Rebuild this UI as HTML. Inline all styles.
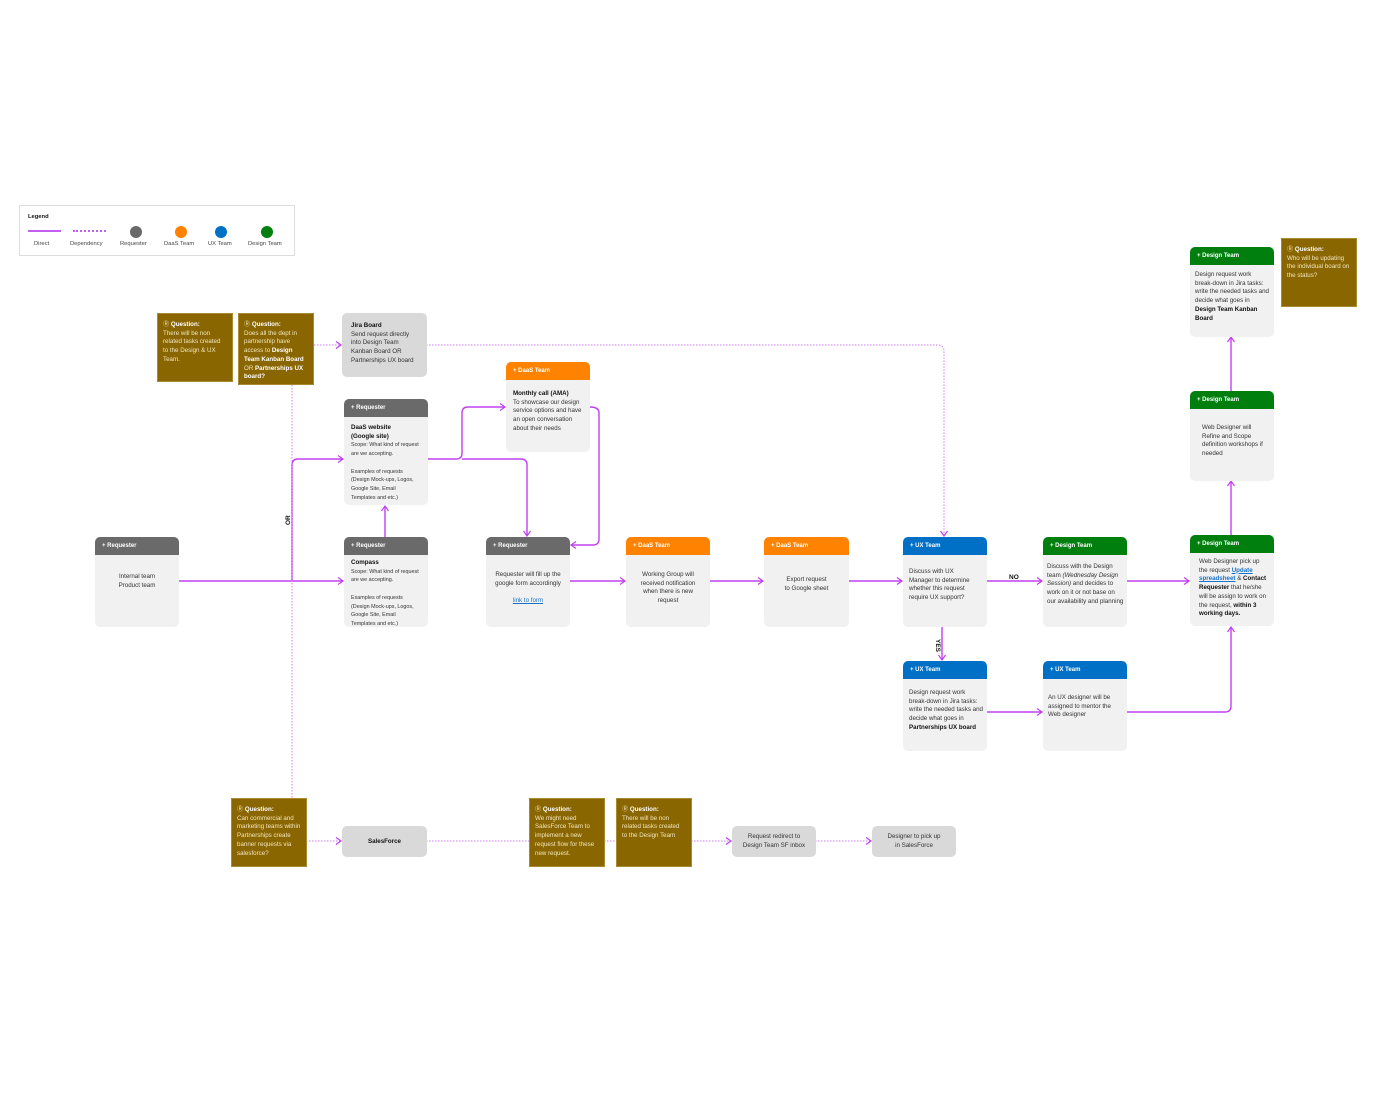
<!DOCTYPE html>
<html><head><meta charset="utf-8"><style>
*{box-sizing:border-box;margin:0;padding:0}
body{width:1392px;height:1093px;background:#fff;position:relative;font-family:"Liberation Sans",sans-serif;overflow:hidden;color:#333}
.c{position:absolute;background:#f1f1f1;border-radius:5px;overflow:hidden;font-size:6.2px;line-height:8.7px}
.h{height:18px;color:#fff;font-weight:bold;font-size:6px;line-height:18px;padding-left:7px}
.b{padding:7px 7px}
.g{background:#6a6a6a}.o{background:#ff8200}.u{background:#0070c6}.gr{background:#007f0e}
.q{position:absolute;background:#8a6600;color:#f3e6c0;font-size:6.2px;line-height:8.7px;padding:7px 5px;border:1px solid #a88a30}
.q b{color:#fff}
.gy{position:absolute;background:#d9d9d9;border-radius:5px;font-size:6.2px;line-height:8.7px}
.ctr{text-align:center}
b{color:#111}
a{color:#1a73c8;text-decoration:underline}
svg{position:absolute;left:0;top:0}
</style></head><body>
<div style="position:absolute;left:19px;top:205px;width:276px;height:51px;border:1px solid #ddd;font-size:5.8px;color:#444">
<div style="position:absolute;left:8px;top:8px;font-weight:bold;color:#111">Legend</div>
<div style="position:absolute;left:8px;top:24px;width:33px;height:2px;background:#c25ef0"></div>
<div style="position:absolute;left:53px;top:24px;width:33px;border-top:2px dotted #c25ef0"></div>
<div style="position:absolute;left:110px;top:20px;width:12px;height:12px;border-radius:50%;background:#6a6a6a"></div>
<div style="position:absolute;left:155px;top:20px;width:12px;height:12px;border-radius:50%;background:#ff8200"></div>
<div style="position:absolute;left:195px;top:20px;width:12px;height:12px;border-radius:50%;background:#0070c6"></div>
<div style="position:absolute;left:241px;top:20px;width:12px;height:12px;border-radius:50%;background:#007f0e"></div>
<div style="position:absolute;left:14px;top:35px">Direct</div>
<div style="position:absolute;left:50px;top:35px">Dependency</div>
<div style="position:absolute;left:100px;top:35px">Requester</div>
<div style="position:absolute;left:144px;top:35px">DaaS Team</div>
<div style="position:absolute;left:188px;top:35px">UX Team</div>
<div style="position:absolute;left:228px;top:35px">Design Team</div>
</div>

<svg width="1392" height="1093">
<defs><marker id="a" markerWidth="8" markerHeight="8" refX="6" refY="4" orient="auto" markerUnits="userSpaceOnUse"><path d="M1,0.5 L6,4 L1,7.5" fill="none" stroke="#c040f0" stroke-width="1.2"/></marker></defs>
<g fill="none" stroke="#c040f0" stroke-width="1.4">
<path d="M178,581 H343" marker-end="url(#a)"/>
<path d="M292,581 V465 Q292,459 298,459 H343" marker-end="url(#a)"/>
<path d="M385,537 V506" marker-end="url(#a)"/>
<path d="M427,459 H456 Q462,459 462,453 V413 Q462,407 468,407 H505" marker-end="url(#a)"/>
<path d="M462,459 H521 Q527,459 527,465 V536" marker-end="url(#a)"/>
<path d="M590,407 Q599,407 599,413 V539 Q599,545 593,545 H571" marker-end="url(#a)"/>
<path d="M569,581 H625" marker-end="url(#a)"/>
<path d="M709,581 H763" marker-end="url(#a)"/>
<path d="M848,581 H902" marker-end="url(#a)"/>
<path d="M986,581 H1042" marker-end="url(#a)"/>
<path d="M1126,581 H1189" marker-end="url(#a)"/>
<path d="M942,626 V660" marker-end="url(#a)"/>
<path d="M986,712 H1042" marker-end="url(#a)"/>
<path d="M1126,712 H1225 Q1231,712 1231,706 V627" marker-end="url(#a)"/>
<path d="M1231,535 V481" marker-end="url(#a)"/>
<path d="M1231,391 V337" marker-end="url(#a)"/>
</g>
<g fill="none" stroke="#d07af5" stroke-width="1" stroke-dasharray="1.5,1.5">
<path d="M292,385 V798"/>
<path d="M314,345 H341" marker-end="url(#a)"/>
<path d="M426,345 H938 Q944,345 944,351 V536" marker-end="url(#a)"/>
<path d="M306,841 H341" marker-end="url(#a)"/>
<path d="M426,841 H529"/>
<path d="M604,841 H616"/>
<path d="M691,841 H731" marker-end="url(#a)"/>
<path d="M815,841 H871" marker-end="url(#a)"/>
</g>
<text x="1009" y="579" font-size="6.5" font-weight="bold" fill="#111" font-family="Liberation Sans">NO</text>
<text transform="translate(936,639) rotate(90)" font-size="6.5" font-weight="bold" fill="#111" font-family="Liberation Sans">YES</text>
<text transform="translate(290,525) rotate(-90)" font-size="6.5" font-weight="bold" fill="#111" font-family="Liberation Sans">OR</text>
</svg>

<div class="q" style="left:157px;top:313px;width:76px;height:69px">&#9415; <b>Question:</b><br>There will be non related tasks created to the Design &amp; UX Team.</div>
<div class="q" style="left:238px;top:313px;width:76px;height:72px">&#9415; <b>Question:</b><br>Does all the dept in partnership have access to <b>Design Team Kanban Board</b> OR <b>Partnerships UX board?</b></div>
<div class="q" style="left:1281px;top:238px;width:76px;height:69px">&#9415; <b>Question:</b><br>Who will be updating the individual board on the status?</div>
<div class="q" style="left:231px;top:798px;width:76px;height:69px">&#9415; <b>Question:</b><br>Can commercial and marketing teams within Partnerships create banner requests via salesforce?</div>
<div class="q" style="left:529px;top:798px;width:76px;height:69px">&#9415; <b>Question:</b><br>We might need SalesForce Team to implement a new request flow for these new request.</div>
<div class="q" style="left:616px;top:798px;width:76px;height:69px">&#9415; <b>Question:</b><br>There will be non related tasks created to the Design Team</div>

<div class="gy" style="left:342px;top:313px;width:85px;height:64px;padding:9px 9px"><b>Jira Board</b><br>Send request directly into Design Team Kanban Board OR Partnerships UX board</div>
<div class="gy ctr" style="left:342px;top:826px;width:85px;height:31px;line-height:31px;font-weight:bold;color:#111">SalesForce</div>
<div class="gy ctr" style="left:732px;top:826px;width:84px;height:31px;padding-top:7px">Request redirect to<br>Design Team SF inbox</div>
<div class="gy ctr" style="left:872px;top:826px;width:84px;height:31px;padding-top:7px">Designer to pick up<br>in SalesForce</div>

<div class="c" style="left:95px;top:537px;width:84px;height:90px"><div class="h g">+ Requester</div><div class="b ctr" style="padding-top:18px">Internal team<br>Product team</div></div>
<div class="c" style="left:344px;top:399px;width:84px;height:106px"><div class="h g">+ Requester</div><div class="b"><b>DaaS website<br>(Google site)</b><br><span style="font-size:5.4px;line-height:8px">Scope: What kind of request are we accepting.<br><br>Examples of requests (Design Mock-ups, Logos, Google Site, Email Templates and etc.)</span></div></div>
<div class="c" style="left:344px;top:537px;width:84px;height:90px"><div class="h g">+ Requester</div><div class="b" style="padding-top:4px"><b>Compass</b><br><span style="font-size:5.4px;line-height:8px">Scope: What kind of request are we accepting.<br><br>Examples of requests (Design Mock-ups, Logos, Google Site, Email Templates and etc.)</span></div></div>
<div class="c" style="left:506px;top:362px;width:84px;height:90px"><div class="h o">+ DaaS Team</div><div class="b" style="padding-top:10px;padding-right:4px"><b>Monthly call (AMA)</b><br>To showcase our design service options and have an open conversation about their needs</div></div>
<div class="c" style="left:486px;top:537px;width:84px;height:90px"><div class="h g">+ Requester</div><div class="b ctr" style="padding-top:16px">Requester will fill up the google form accordingly<br><br><a>link to form</a></div></div>
<div class="c" style="left:626px;top:537px;width:84px;height:90px"><div class="h o">+ DaaS Team</div><div class="b ctr" style="padding:16px 10px">Working Group will received notification when there is new request</div></div>
<div class="c" style="left:764px;top:537px;width:85px;height:90px"><div class="h o">+ DaaS Team</div><div class="b ctr" style="padding-top:21px">Export request<br>to Google sheet</div></div>
<div class="c" style="left:903px;top:537px;width:84px;height:90px"><div class="h u">+ UX Team</div><div class="b" style="padding:13px 12px 7px 6px">Discuss with UX Manager to determine whether this request require UX support?</div></div>
<div class="c" style="left:1043px;top:537px;width:84px;height:90px"><div class="h gr">+ Design Team</div><div class="b" style="padding:8px 3px 7px 4px">Discuss with the Design team <i>(Wednesday Design Session)</i> and decides to work on it or not base on our availability and planning</div></div>
<div class="c" style="left:1190px;top:535px;width:84px;height:91px"><div class="h gr">+ Design Team</div><div class="b" style="padding:5px 7px 5px 9px">Web Designer pick up the request <a style="font-weight:bold">Update spreadsheet</a> &amp; <b>Contact Requester</b> that he/she will be assign to work on the request, <b>within 3 working days.</b></div></div>
<div class="c" style="left:903px;top:661px;width:84px;height:90px"><div class="h u">+ UX Team</div><div class="b" style="padding:10px 3px 7px 6px">Design request work break-down in Jira tasks: write the needed tasks and decide what goes in <b>Partnerships UX board</b></div></div>
<div class="c" style="left:1043px;top:661px;width:84px;height:90px"><div class="h u">+ UX Team</div><div class="b" style="padding:15px 8px 7px 5px">An UX designer will be assigned to mentor the Web designer</div></div>
<div class="c" style="left:1190px;top:391px;width:84px;height:90px"><div class="h gr">+ Design Team</div><div class="b" style="padding:15px 10px 7px 12px">Web Designer will Refine and Scope definition workshops if needed</div></div>
<div class="c" style="left:1190px;top:247px;width:84px;height:90px"><div class="h gr">+ Design Team</div><div class="b" style="padding:6px 5px">Design request work break-down in Jira tasks: write the needed tasks and decide what goes in <b>Design Team Kanban Board</b></div></div>
</body></html>
